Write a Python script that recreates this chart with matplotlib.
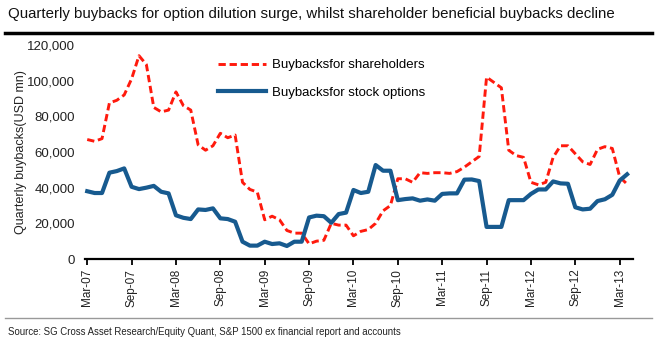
import numpy as np
import matplotlib
matplotlib.use("Agg")
import matplotlib.pyplot as plt
from matplotlib.lines import Line2D

plt.rcParams['font.family'] = ['Liberation Sans', 'DejaVu Sans']

# monthly values, Mar-07 .. Apr-13 (USD mn)
shareholders = [
    67000, 66000, 67500, 87500, 89000, 92000, 101000, 114000, 109000, 85000,
    82500, 83500, 93700, 86000, 83500, 64000, 61000, 63500, 70500, 68000,
    69500, 43000, 39000, 37500, 22000, 24000, 22000, 16000, 14500, 14500,
    8500, 10000, 10500, 20000, 19000, 19000, 13000, 15500, 16500, 20000,
    27000, 30000, 45000, 45000, 43000, 48400, 48000, 48400, 48400, 48000,
    49000, 51500, 54500, 57500, 102000, 99000, 96000, 61000, 58000, 57000,
    43000, 41600, 43000, 57000, 63500, 63500, 59000, 54500, 53000, 61500,
    63000, 62000, 46000, 42000,
]
stock_options = [
    38000, 37000, 37000, 48400, 49300, 50800, 40500, 39200, 40000, 41000,
    37700, 36800, 24500, 23100, 22400, 27800, 27500, 28400, 22800, 22400,
    20900, 9700, 7500, 7500, 9700, 8400, 8800, 7300, 9700, 9700,
    23300, 24300, 24000, 20300, 25200, 26000, 38700, 37000, 37700, 52700,
    49500, 49500, 33000, 33600, 34000, 32700, 33400, 32700, 36500, 36800,
    36800, 44500, 44600, 43700, 18000, 18000, 18000, 33000, 33000, 33000,
    36500, 39000, 39000, 43500, 42400, 42200, 29000, 27800, 28200, 32500,
    33500, 36000, 44000, 47500,
]
tick_labels = ['Mar-07', 'Sep-07', 'Mar-08', 'Sep-08', 'Mar-09', 'Sep-09', 'Mar-10',
               'Sep-10', 'Mar-11', 'Sep-11', 'Mar-12', 'Sep-12', 'Mar-13']
y_ticks = [0, 20000, 40000, 60000, 80000, 100000, 120000]

red = '#ff1a0d'
blue = '#175a8f'

fig = plt.figure(figsize=(6.57, 3.5), dpi=100)
fig.patch.set_facecolor('white')
ax = fig.add_axes([85 / 657, 1 - 259 / 350, 548 / 657, 214 / 350])

months = np.arange(len(shareholders))
ax.plot(months, shareholders, color=red, lw=2.1, dashes=(2.5, 1.3),
        solid_capstyle='butt', clip_on=False, label='Buybacksfor shareholders')
ax.plot(months, stock_options, color=blue, lw=3.0, solid_joinstyle='round',
        clip_on=False, label='Buybacksfor stock options')

ax.set_xlim(-0.3, 73.8)
ax.set_ylim(0, 120000)
ax.set_xticks(np.arange(0, 73, 6))
ax.set_xticklabels(tick_labels, rotation=90, fontsize=8.5, color='#222222')
ax.set_yticks(y_ticks)
ax.set_yticklabels([f'{v:,}' for v in y_ticks], fontsize=9.5, color='#222222')
ax.tick_params(axis='x', direction='out', length=4, width=1.3, pad=3)
ax.tick_params(axis='y', length=0, pad=7)
for side in ['top', 'right', 'left']:
    ax.spines[side].set_visible(False)
ax.spines['bottom'].set_linewidth(1.6)
ax.set_ylabel('Quarterly buybacks(USD mn)', fontsize=9, color='#222222', labelpad=0)

ax.legend(loc='upper left', bbox_to_anchor=(218 / 657, 1 - 59 / 350),
          bbox_transform=fig.transFigure, frameon=False, fontsize=9.5,
          handlelength=3.6, handletextpad=0.5, labelspacing=1.15,
          borderpad=0, borderaxespad=0)

# title with rule under it
fig.text(8 / 657, 1 - 14 / 350, 'Quarterly buybacks for option dilution surge, whilst shareholder '
         'beneficial buybacks decline', fontsize=10.8, va='center', ha='left', color='#111111')
fig.add_artist(Line2D([5 / 657, 652 / 657], [1 - 33 / 350, 1 - 33 / 350], color='black', lw=2.5))

# source note
fig.text(8 / 657, 1 - 332 / 350, 'Source: SG Cross Asset Research/Equity Quant, S&P 1500 ex '
         'financial report and accounts', fontsize=6.9, va='center', ha='left', color='#222222')
fig.add_artist(Line2D([5 / 657, 652 / 657], [1 - 318 / 350, 1 - 318 / 350], color='#999999', lw=1))

fig.savefig('out.png', dpi=100, facecolor='white')
